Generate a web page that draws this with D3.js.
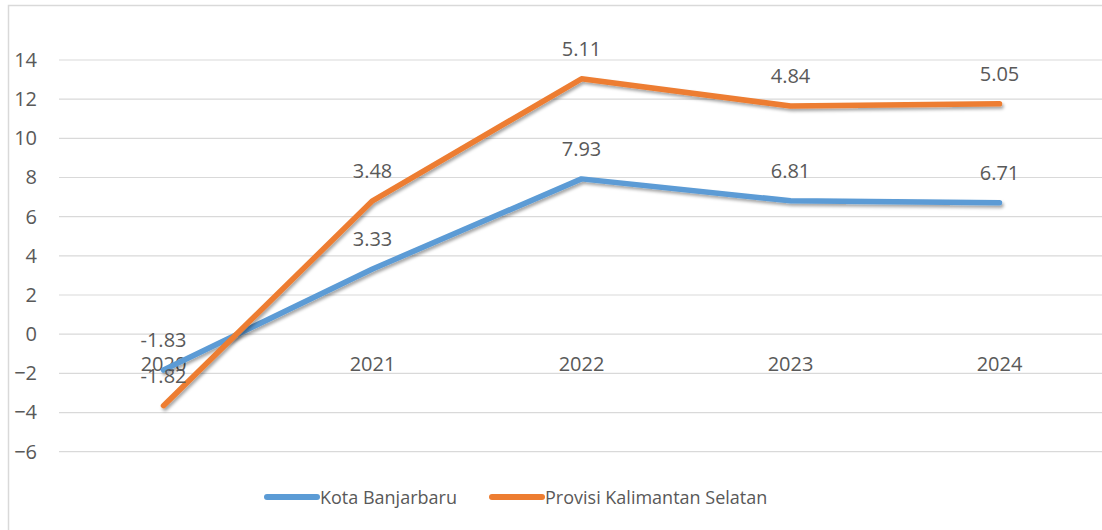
<!DOCTYPE html>
<html>
<head>
<meta charset="utf-8">
<script src="https://cdn.jsdelivr.net/npm/d3@7"></script>
<style>
  body { margin: 0; background: #fff; }
  text { font-family: "Open Sans", "Noto Sans", sans-serif; fill: #595959; }
</style>
</head>
<body>
<div id="chart"></div>
<script>
var years = ["2020", "2021", "2022", "2023", "2024"];
var kotaBanjarbaru = [-1.83, 3.33, 7.93, 6.81, 6.71];
var provKalsel = [-1.82, 3.48, 5.11, 4.84, 5.05];
var yTicks = [-6, -4, -2, 0, 2, 4, 6, 8, 10, 12, 14];
var seriesNames = ["Kota Banjarbaru", "Provisi Kalimantan Selatan"];
var colors = ["#5B9BD5", "#ED7D31"];

var width = 1102, height = 530;
var plot = {left: 59, right: 1104, top: 60, bottom: 451.7};

var svg = d3.select("#chart").append("svg")
  .attr("width", width)
  .attr("height", height);

// drop shadow for the lines
var f = svg.append("defs").append("filter")
  .attr("id", "shadow")
  .attr("x", "-10%").attr("y", "-10%")
  .attr("width", "120%").attr("height", "130%");
f.append("feDropShadow")
  .attr("dx", 1.5).attr("dy", 2.5)
  .attr("stdDeviation", 1.8)
  .attr("flood-color", "#000")
  .attr("flood-opacity", 0.35);

// chart border
svg.append("rect")
  .attr("x", 8.5).attr("y", 5.5)
  .attr("width", 1120).attr("height", 540)
  .attr("fill", "none")
  .attr("stroke", "#D9D9D9")
  .attr("stroke-width", 1.5);

var x = d3.scaleBand().domain(years).range([plot.left, plot.right]);
var y = d3.scaleLinear().domain([-6, 14]).range([plot.bottom, plot.top]);

// gridlines
svg.append("g").selectAll("line")
  .data(yTicks)
  .join("line")
  .attr("x1", plot.left).attr("x2", width)
  .attr("y1", function(d) { return y(d); })
  .attr("y2", function(d) { return y(d); })
  .attr("stroke", "#D9D9D9")
  .attr("stroke-width", 1.2);

// y axis labels
var yAxis = svg.append("g")
  .attr("transform", "translate(" + (plot.left - 22) + ",0)")
  .call(d3.axisLeft(y).tickValues(yTicks).tickSize(0).tickPadding(0));
yAxis.select(".domain").remove();
yAxis.selectAll("text")
  .style("font-size", "20px")
  .attr("fill", "#595959")
  .style("font-family", "'Open Sans', sans-serif");

// stacked values (stacked line chart)
var stackData = years.map(function(yr, i) {
  return {year: yr, a: kotaBanjarbaru[i], b: provKalsel[i]};
});
var stacked = d3.stack().keys(["a", "b"]).offset(function(series, order) {
  // simple cumulative sum, keeping signs (Excel style stacking)
  for (var j = 0; j < series[0].length; j++) {
    var sum = 0;
    for (var k = 0; k < series.length; k++) {
      var s = series[order[k]][j];
      var v = s[1] - s[0];
      s[0] = sum; s[1] = sum + v; sum += v;
    }
  }
})(stackData);

var cx = function(d) { return x(d.data.year) + x.bandwidth() / 2; };

// category labels (sit just under the 0 line)
svg.append("g").selectAll("text")
  .data(years)
  .join("text")
  .attr("x", function(d) { return x(d) + x.bandwidth() / 2; })
  .attr("y", y(0) + 37)
  .attr("text-anchor", "middle")
  .style("font-size", "20px")
  .text(function(d) { return d; });

var line = d3.line().x(cx).y(function(d) { return y(d[1]); });

svg.append("g").selectAll("path")
  .data(stacked)
  .join("path")
  .attr("d", line)
  .attr("fill", "none")
  .attr("stroke", function(d, i) { return colors[i]; })
  .attr("stroke-width", 5.5)
  .attr("stroke-linecap", "round")
  .attr("stroke-linejoin", "round")
  .attr("filter", "url(#shadow)");

// data labels
var vals = [kotaBanjarbaru, provKalsel];
stacked.forEach(function(s, si) {
  svg.append("g").selectAll("text")
    .data(s)
    .join("text")
    .attr("x", cx)
    .attr("y", function(d) { return y(d[1]) - 23; })
    .attr("text-anchor", "middle")
    .style("font-size", "20px")
    .text(function(d, i) { return vals[si][i].toFixed(2); });
});

// legend
var legend = svg.append("g");
var legendPos = [267, 492];
seriesNames.forEach(function(name, i) {
  legend.append("line")
    .attr("x1", legendPos[i]).attr("x2", legendPos[i] + 50)
    .attr("y1", 497).attr("y2", 497)
    .attr("stroke", colors[i])
    .attr("stroke-width", 6)
    .attr("stroke-linecap", "round");
  legend.append("text")
    .attr("x", legendPos[i] + 53)
    .attr("y", 503.5)
    .style("font-size", "18px")
    .text(name);
});
</script>
</body>
</html>
